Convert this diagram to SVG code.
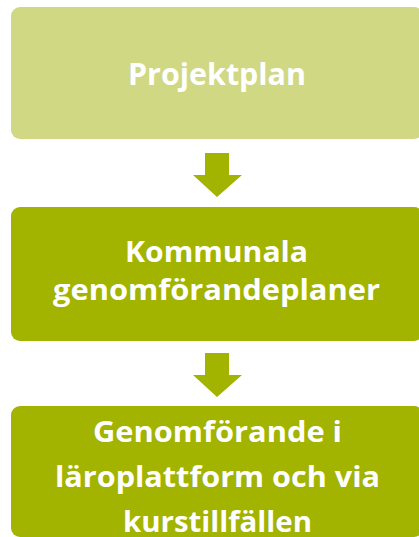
<svg xmlns="http://www.w3.org/2000/svg" width="419" height="537" viewBox="0 0 419 537">
<style>
.light{fill:#D0D883}
.dark{fill:#A2B300}
.t{fill:#FFFFFF;font-family:"Open Sans","Noto Sans",sans-serif;font-weight:bold;text-anchor:middle}
</style>
<rect width="419" height="537" fill="#FFFFFF"/>
<g id="connectors">
<polygon class="dark" points="205,153 229,153 229,175 242,175 217,197 193,175 205,175"/>
<polygon class="dark" points="205,353 229,353 229,375 242,375 217,397 193,375 205,375"/>
</g>
<g id="node-projektplan">
<rect class="light" x="11" y="7" width="412" height="132" rx="9"/>
<text class="t" x="217" y="85" font-size="31" textLength="178" lengthAdjust="spacingAndGlyphs">Projektplan</text>
</g>
<g id="node-kommunala">
<rect class="dark" x="11" y="207" width="412" height="134" rx="9"/>
<text class="t" x="216.5" y="262" font-size="28" textLength="183" lengthAdjust="spacingAndGlyphs">Kommunala</text>
<text class="t" x="216.5" y="300" font-size="28" textLength="327" lengthAdjust="spacingAndGlyphs">genomförandeplaner</text>
</g>
<g id="node-genomforande">
<rect class="dark" x="11" y="406" width="412" height="131" rx="9"/>
<text class="t" x="217.5" y="442" font-size="28" textLength="249" lengthAdjust="spacingAndGlyphs">Genomförande i</text>
<text class="t" x="217.5" y="487" font-size="28" textLength="325" lengthAdjust="spacingAndGlyphs">läroplattform och via</text>
<text class="t" x="217.5" y="532" font-size="28" textLength="189" lengthAdjust="spacingAndGlyphs">kurstillfällen</text>
</g>
</svg>
